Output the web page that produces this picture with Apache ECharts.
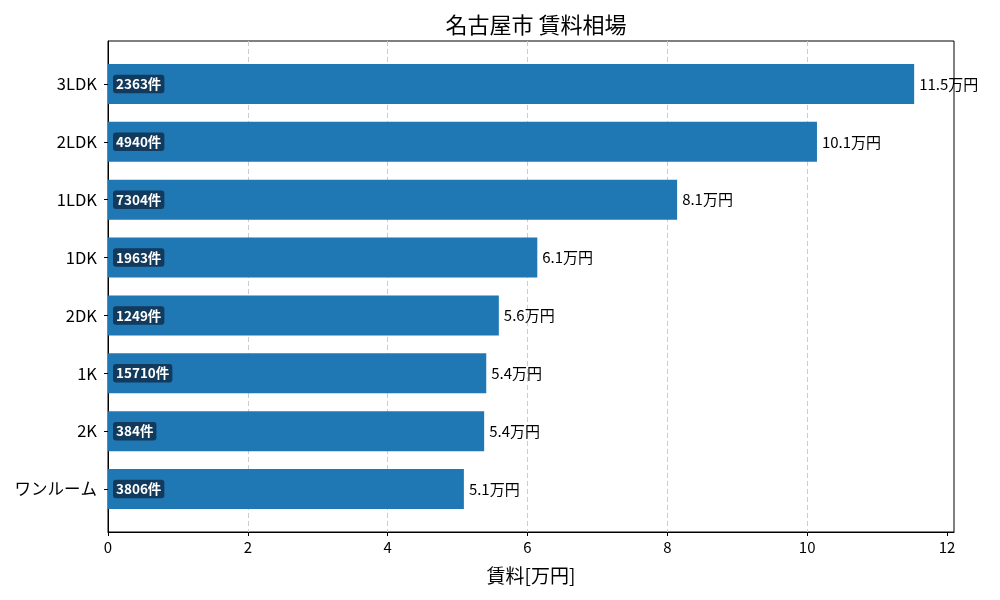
<!DOCTYPE html>
<html>
<head>
<meta charset="utf-8">
<script src="https://cdn.jsdelivr.net/npm/echarts@6/dist/echarts.min.js"></script>
<style>
  html, body { margin: 0; padding: 0; background: #fff; }
  #main { width: 1000px; height: 600px; }
</style>
</head>
<body>
<div id="main"></div>
<script>
// 上から順の間取り
var categories = ['3LDK', '2LDK', '1LDK', '1DK', '2DK', '1K', '2K', 'ワンルーム'];
// 平均賃料（万円）
var rents = [11.53, 10.14, 8.14, 6.14, 5.59, 5.41, 5.38, 5.09];
// 件数
var counts = [2363, 4940, 7304, 1963, 1249, 15710, 384, 3806];
var xTicks = [0, 2, 4, 6, 8, 10, 12];

var font = '"Noto Sans CJK JP", "Noto Sans", sans-serif';
var myChart = echarts.init(document.getElementById('main'));

var option = {
    textStyle: { fontFamily: font },
    title: {
        text: '名古屋市 賃料相場',
        left: 531,
        top: 9,
        textAlign: 'center',
        textStyle: { fontFamily: font, fontSize: 22, fontWeight: 'normal', color: '#000' }
    },
    grid: [
        // 枠と目盛り用
        { left: 108, right: 46, top: 41, bottom: 68, show: true, borderColor: '#000', borderWidth: 1, backgroundColor: 'transparent' },
        // 棒用
        { left: 108, right: 46, top: 55, bottom: 82 }
    ],
    xAxis: [
        {
            gridIndex: 0,
            type: 'value',
            min: 0,
            max: 12.1,
            interval: 2,
            name: '賃料[万円]',
            nameLocation: 'middle',
            nameGap: 34,
            nameTextStyle: { fontFamily: font, fontSize: 19, color: '#000' },
            axisLine: { show: true, lineStyle: { color: '#000' } },
            axisTick: { show: true, length: 4, lineStyle: { color: '#000' }, customValues: xTicks },
            axisLabel: { fontFamily: font, fontSize: 15, color: '#000', margin: 8, customValues: xTicks },
            splitLine: { show: true, showMinLine: false, showMaxLine: false, lineStyle: { color: '#cccccc', type: [5, 3] } }
        },
        {
            gridIndex: 1,
            type: 'value',
            min: 0,
            max: 12.1,
            show: false,
            splitLine: { show: false }
        }
    ],
    yAxis: [
        {
            gridIndex: 0,
            type: 'value',
            min: 0,
            max: 1,
            axisLine: { show: true, lineStyle: { color: '#000' } },
            axisTick: { show: false },
            axisLabel: { show: false },
            splitLine: { show: false }
        },
        {
            gridIndex: 1,
            type: 'category',
            inverse: true,
            data: categories,
            axisLine: { show: false },
            axisTick: { show: true, length: 4, alignWithLabel: true, lineStyle: { color: '#000' } },
            axisLabel: { fontFamily: font, fontSize: 16.5, color: '#000', margin: 11 }
        }
    ],
    series: [
        {
            name: '賃料',
            type: 'bar',
            xAxisIndex: 1,
            yAxisIndex: 1,
            barWidth: 40,
            itemStyle: { color: '#1f77b4' },
            label: {
                show: true,
                position: 'right',
                distance: 5,
                fontFamily: font,
                fontSize: 15,
                color: '#000',
                formatter: function (p) { return p.value.toFixed(1) + '万円'; }
            },
            data: rents
        },
        {
            name: '件数',
            type: 'bar',
            xAxisIndex: 1,
            yAxisIndex: 1,
            barWidth: 40,
            barGap: '-100%',
            itemStyle: { color: 'transparent' },
            label: {
                show: true,
                position: 'insideLeft',
                distance: 5,
                fontFamily: font,
                fontSize: 13.5,
                fontWeight: 'bold',
                color: '#fff',
                backgroundColor: '#123a5c',
                borderRadius: 3,
                padding: [3, 3, 2, 3],
                formatter: function (p) { return counts[p.dataIndex] + '件'; }
            },
            data: rents
        }
    ]
};

myChart.setOption(option);
</script>
</body>
</html>
